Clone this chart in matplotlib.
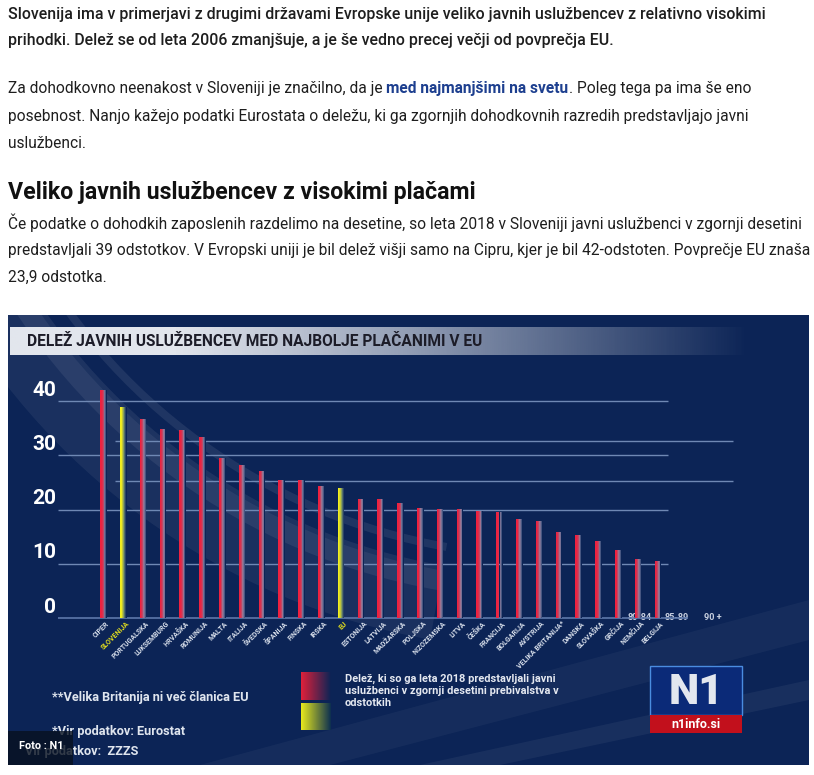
import numpy as np
import matplotlib.pyplot as plt
from matplotlib.patches import Rectangle, Wedge, Polygon
from matplotlib.colors import to_rgb

plt.rcParams['font.family'] = ['Roboto', 'DejaVu Sans']

# share of public servants in the top income decile, 2018 (%)
countries = ['CIPER', 'SLOVENIJA', 'PORTUGALSKA', 'LUKSEMBURG', 'HRVAŠKA', 'ROMUNIJA',
             'MALTA', 'ITALIJA', 'ŠVEDSKA', 'ŠPANIJA', 'FINSKA', 'IRSKA', 'EU',
             'ESTONIJA', 'LATVIJA', 'MADŽARSKA', 'POLJSKA', 'NIZOZEMSKA', 'LITVA',
             'ČEŠKA', 'FRANCIJA', 'BOLGARIJA', 'AVSTRIJA', 'VELIKA BRITANIJA*',
             'DANSKA', 'SLOVAŠKA', 'GRČIJA', 'NEMČIJA', 'BELGIJA']
share = [42.0, 39.0, 36.8, 34.9, 34.7, 33.4, 29.6, 28.3, 27.2, 25.5, 25.5, 24.3, 23.9,
         22.0, 21.9, 21.2, 20.3, 20.2, 20.1, 19.7, 19.5, 18.3, 17.9, 15.8,
         15.3, 14.2, 12.5, 10.8, 10.6]
highlight = ['SLOVENIJA', 'EU']
yticks = [0, 10, 20, 30, 40]
age_labels = ['80-84', '85-89', '90 +']

W, H = 814, 775
NAVY = '#0c2456'

fig = plt.figure(figsize=(W / 100, H / 100), dpi=100)
fig.patch.set_facecolor('white')

# page layer in pixel coordinates
page = fig.add_axes([0, 0, 1, 1])
page.axis('off')

dark = '#1e1e1e'
fs = 11.2
p1 = ["Slovenija ima v primerjavi z drugimi državami Evropske unije veliko javnih uslužbencev z relativno visokimi",
      "prihodki. Delež se od leta 2006 zmanjšuje, a je še vedno precej večji od povprečja EU."]
for txt, y in zip(p1, [14, 41]):
    page.text(8, y, txt, fontsize=11.4, fontweight='medium', color=dark, va='center')

t = page.text(8, 89, "Za dohodkovno neenakost v Sloveniji je značilno, da je ", fontsize=fs,
              color=dark, va='center')
t = page.annotate("med najmanjšimi na svetu", xy=(1, 0.5), xycoords=t, va='center',
                  fontsize=fs, fontweight='bold', color='#1d3f8f')
page.annotate(". Poleg tega pa ima še eno", xy=(1, 0.5), xycoords=t, va='center',
              fontsize=fs, color=dark)
p2 = ["posebnost. Nanjo kažejo podatki Eurostata o deležu, ki ga zgornjih dohodkovnih razredih predstavljajo javni",
      "uslužbenci."]
for txt, y in zip(p2, [116, 143]):
    page.text(8, y, txt, fontsize=fs, color=dark, va='center')

page.text(8, 193, "Veliko javnih uslužbencev z visokimi plačami", fontsize=16.7, fontweight='bold',
          color='#111111', va='center')
p3 = ["Če podatke o dohodkih zaposlenih razdelimo na desetine, so leta 2018 v Sloveniji javni uslužbenci v zgornji desetini",
      "predstavljali 39 odstotkov. V Evropski uniji je bil delež višji samo na Cipru, kjer je bil 42-odstoten. Povprečje EU znaša",
      "23,9 odstotka."]
for txt, y in zip(p3, [223, 251, 277]):
    page.text(8, y, txt, fontsize=fs, color=dark, va='center')

# infographic background
bg = Rectangle((8, 315), 801, 450, facecolor=NAVY, edgecolor='none', zorder=0)
page.add_patch(bg)
for r, w, a in [(690, 70, 0.06), (640, 25, 0.07), (600, 8, 0.08)]:
    arc = Wedge((550, -40), r, 100, 152, width=w, facecolor='white', alpha=a, edgecolor='none', zorder=0.5)
    page.add_patch(arc)
    arc.set_clip_path(bg)
for pts, a in [([(200, 765), (809, 600), (809, 640), (330, 765)], 0.04),
               ([(420, 765), (809, 680), (809, 700), (500, 765)], 0.05)]:
    band = Polygon(pts, facecolor='white', alpha=a, edgecolor='none', zorder=0.5)
    page.add_patch(band)

# title banner
grad = np.zeros((1, 256, 4))
grad[..., :3] = to_rgb('#e2e6ed')
grad[..., 3] = np.clip(1.2 - np.linspace(0, 1, 256) ** 1.2 * 1.2, 0, 1)
page.imshow(grad, extent=(10, 750, 355, 327), aspect='auto', zorder=1)
page.text(27, 341, "DELEŽ JAVNIH USLUŽBENCEV MED NAJBOLJE PLAČANIMI V EU", fontsize=11.2,
          fontweight='bold', color='#1c1c28', va='center', zorder=2)

# legend
def hgrad(c0, c1, n=64):
    a = np.linspace(0, 1, n)[None, :, None]
    return (1 - a) * np.array(to_rgb(c0)) + a * np.array(to_rgb(c1))

page.imshow(hgrad('#e0203a', NAVY), extent=(301, 331, 700, 672), aspect='auto', zorder=1)
page.imshow(hgrad('#e8e81c', '#0d3050'), extent=(301, 331, 730, 703), aspect='auto', zorder=1)
for txt, y in zip(["Delež, ki so ga leta 2018 predstavljali javni",
                   "uslužbenci v zgornji desetini prebivalstva v", "odstotkih"], [679, 691, 703]):
    page.text(345, y, txt, fontsize=7.9, fontweight='bold', color='#e4e8f0', va='center', zorder=2)

page.text(52, 697, "**Velika Britanija ni več članica EU", fontsize=9.2, fontweight='bold',
          color='#dfe5ee', va='center', zorder=2)
page.text(52, 732, "*Vir podatkov: Eurostat", fontsize=9.2, fontweight='bold',
          color='#dfe5ee', va='center', zorder=2)
page.text(25, 752, "Vir podatkov:  ZZZS", fontsize=9.2, fontweight='bold',
          color='#dfe5ee', va='center', zorder=2)
page.add_patch(Rectangle((8, 731), 65, 34, facecolor='#07101f', alpha=0.8, edgecolor='none', zorder=3))
page.text(19, 746, "Foto : N1", fontsize=7.8, fontweight='bold', color='white', va='center', zorder=4)

# N1 logo
page.add_patch(Rectangle((650, 666), 92, 49, facecolor='#0b2a78', edgecolor='#4a8ce0', lw=1, zorder=2))
page.add_patch(Rectangle((650, 715), 92, 18, facecolor='#c2101c', edgecolor='none', zorder=2))
page.text(696, 692, "N1", fontsize=31, fontweight='black', color='#e3e7ef', ha='center', va='center', zorder=3)
page.text(696, 724, "n1info.si", fontsize=9, fontweight='bold', color='white', ha='center', va='center', zorder=3)

for txt, x in zip(age_labels, [640, 677, 713]):
    page.text(x, 617, txt, fontsize=6.6, fontweight='bold', color='#c8d0e0', ha='center', va='center', zorder=2)

page.set_xlim(0, W)
page.set_ylim(H, 0)

# chart layer: x in bar index, y in percent
x0px, x1px, y0px, y1px = 58, 740, 385, 618
step, ppu, first = 19.8, 5.42, 103.5
ax = fig.add_axes([x0px / W, 1 - y1px / H, (x1px - x0px) / W, (y1px - y0px) / H])
ax.patch.set_alpha(0)
ax.axis('off')
ax.set_xlim((x0px - first) / step, (x1px - first) / step)
ax.set_ylim(0, (y1px - y0px) / ppu)

n = len(countries)
x = np.arange(n)
grid_c = '#6f88b4'
ax.hlines([10, 20, 30, 40], (x0px - first) / step, n - 0.5, color=grid_c, lw=1, zorder=1)
ax.hlines([32.7, 25.3], 0.58, 31.8, color=grid_c, lw=1, zorder=1)
ax.hlines([0], (x0px - first) / step, 29.5, color='#5d78aa', lw=1.2, zorder=1, clip_on=False)


def ramp(stops, k):
    pos = np.linspace(0, 1, len(stops))
    rgb = np.array([to_rgb(c) for c in stops])
    t = np.linspace(0, 1, k)
    return [tuple(np.interp(v, pos, rgb[:, i]) for i in range(3)) for v in t]


k = 8
bw = 0.34
red_cols = ramp(['#f0203f', '#ea2442', '#c8405e', '#9a7896', '#5e6a92', NAVY], k)
yel_cols = ramp(['#f2ef1c', '#ebe822', '#c8cc36', '#809a62', '#36506c', NAVY], k)
for xi, v, name in zip(x, share, countries):
    cols = yel_cols if name in highlight else red_cols
    for j in range(k):
        ax.bar(xi - bw / 2 + (j + 0.5) * bw / k, v, width=bw / k, color=cols[j],
               edgecolor='none', zorder=2)
    ax.text(xi + 0.25, -0.85, name, rotation=45, rotation_mode='anchor', ha='right', va='center',
            fontsize=5.0, fontweight='bold', color='#e0dc1e' if name in highlight else '#d8dfeb',
            clip_on=False)

for v in yticks:
    ax.text((56 - first) / step, v + 2.0, str(v), ha='right', va='center', fontsize=15,
            fontweight='bold', color='white', clip_on=False)

fig.savefig('out.png', dpi=100)
